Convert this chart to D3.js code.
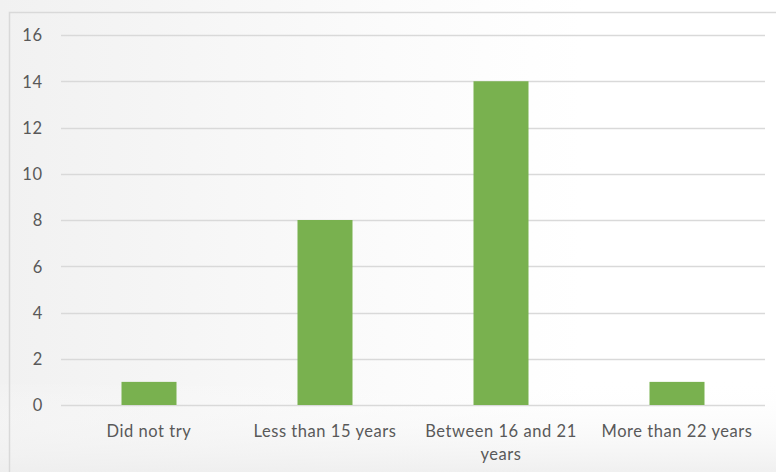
<!DOCTYPE html>
<html>
<head>
<meta charset="utf-8">
<script src="https://cdn.jsdelivr.net/npm/d3@7"></script>
<style>
  html, body { margin: 0; padding: 0; background: #ffffff; }
  svg { display: block; }
</style>
</head>
<body>
<div id="chart"></div>
<script>
// Age at first attempt — counts per group
const categories = ["Did not try", "Less than 15 years", "Between 16 and 21 years", "More than 22 years"];
const labelLines = [["Did not try"], ["Less than 15 years"], ["Between 16 and 21", "years"], ["More than 22 years"]];
const counts = [1, 8, 14, 1];
const yTicks = [0, 2, 4, 6, 8, 10, 12, 14, 16];

const W = 776, H = 472;
const margin = { left: 61, right: 11, top: 35, bottom: 67 };
const FONT = "Lato, 'Open Sans', sans-serif";

const svg = d3.select("#chart").append("svg")
  .attr("width", W).attr("height", H);

const defs = svg.append("defs");
const haze = defs.append("linearGradient").attr("id", "haze")
  .attr("x1", "0").attr("x2", "1").attr("y1", "0").attr("y2", "0");
haze.append("stop").attr("offset", "0").attr("stop-color", "#f1f1f1");
haze.append("stop").attr("offset", "0.5").attr("stop-color", "#fbfbfb");
haze.append("stop").attr("offset", "0.75").attr("stop-color", "#ffffff");
haze.append("stop").attr("offset", "1").attr("stop-color", "#ffffff");

const hazeB = defs.append("linearGradient").attr("id", "hazeB")
  .attr("x1", "0").attr("x2", "0").attr("y1", "0").attr("y2", "1");
hazeB.append("stop").attr("offset", "0").attr("stop-color", "#ffffff").attr("stop-opacity", 0);
hazeB.append("stop").attr("offset", "1").attr("stop-color", "#eeeeee").attr("stop-opacity", 0.9);

// soft background wash
svg.append("rect").attr("width", W).attr("height", H).attr("fill", "url(#haze)");
svg.append("rect").attr("x", 0).attr("y", 380).attr("width", W).attr("height", 92).attr("fill", "url(#hazeB)");

// chart frame
svg.append("rect")
  .attr("x", 9.5).attr("y", 12.5)
  .attr("width", W + 20).attr("height", H + 20)
  .attr("fill", "none").attr("stroke", "#d9d9d9").attr("stroke-width", 1.5);

const x = d3.scaleBand()
  .domain(categories)
  .range([margin.left, W - margin.right])
  .paddingInner(0.6875).paddingOuter(0.34375);

const y = d3.scaleLinear()
  .domain([0, 16])
  .range([H - margin.bottom, margin.top]);

// gridlines
svg.append("g")
  .selectAll("line")
  .data(yTicks)
  .join("line")
  .attr("x1", margin.left).attr("x2", W - margin.right)
  .attr("y1", d => Math.round(y(d)) + 0.5).attr("y2", d => Math.round(y(d)) + 0.5)
  .attr("stroke", "#d9d9d9").attr("stroke-width", 1.5);

// y axis labels
const yAxis = d3.axisLeft(y).tickValues(yTicks).tickSize(0).tickPadding(18);
const gy = svg.append("g").attr("transform", `translate(${margin.left},0)`).call(yAxis);
gy.select(".domain").remove();
gy.selectAll("text")
  .attr("fill", "#595959")
  .attr("dy", "0.36em")
  .style("font-family", FONT)
  .style("font-size", "16.5px")
  .style("letter-spacing", "0.8px");

// bars
svg.append("g")
  .selectAll("rect")
  .data(counts)
  .join("rect")
  .attr("x", (d, i) => x(categories[i]))
  .attr("width", x.bandwidth())
  .attr("y", d => y(d))
  .attr("height", d => y(0) - y(d))
  .attr("fill", "#79b14f");

// category labels
const labels = svg.append("g")
  .selectAll("text")
  .data(categories)
  .join("text")
  .attr("x", d => x(d) + x.bandwidth() / 2)
  .attr("y", 437)
  .attr("text-anchor", "middle")
  .attr("fill", "#595959")
  .style("font-family", FONT)
  .style("font-size", "16.5px")
  .style("letter-spacing", "0.55px");
labels.each(function(d, i) {
  d3.select(this).selectAll("tspan")
    .data(labelLines[i])
    .join("tspan")
    .attr("x", x(d) + x.bandwidth() / 2)
    .attr("dy", (t, j) => j === 0 ? 0 : 23)
    .text(t => t);
});
</script>
</body>
</html>
